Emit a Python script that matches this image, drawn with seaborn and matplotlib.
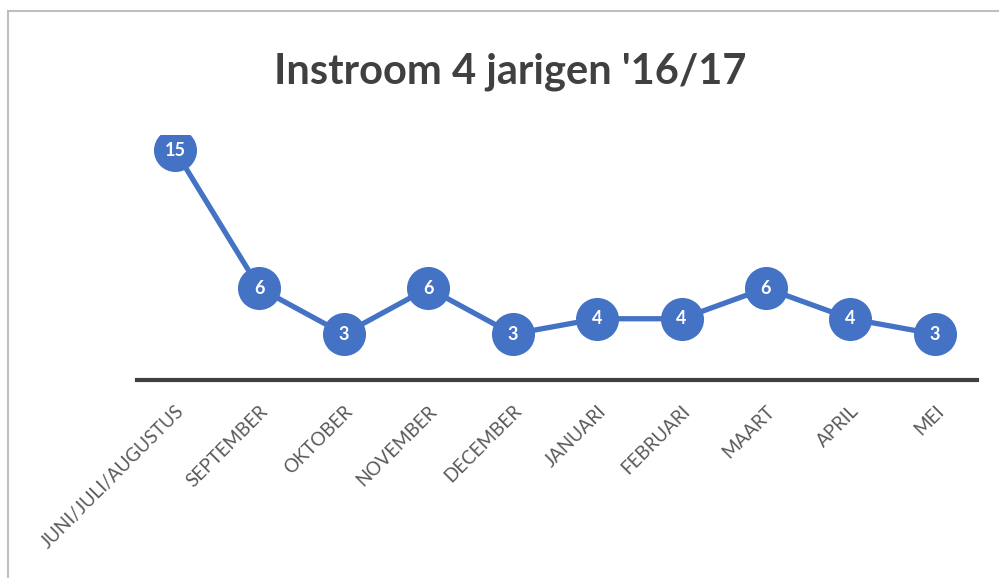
import matplotlib
matplotlib.use('Agg')
import matplotlib.pyplot as plt
import seaborn as sns
import pandas as pd
from matplotlib.patches import Rectangle

# data
maanden = ['JUNI/JULI/AUGUSTUS', 'SEPTEMBER', 'OKTOBER', 'NOVEMBER', 'DECEMBER',
           'JANUARI', 'FEBRUARI', 'MAART', 'APRIL', 'MEI']
instroom = [15, 6, 3, 6, 3, 4, 4, 6, 4, 3]
titel = "Instroom 4 jarigen '16/17"

df = pd.DataFrame({'maand': maanden, 'aantal': instroom})
df['pos'] = range(len(df))

sns.set_style('white')
plt.rcParams['font.family'] = ['Lato', 'DejaVu Sans']

blauw = '#4472C4'

fig = plt.figure(figsize=(9.99, 5.78), dpi=100)
ax = fig.add_axes([137 / 999, 1 - 380 / 578, (977 - 137) / 999, (380 - 135) / 578])

sns.lineplot(data=df, x='pos', y='aantal', ax=ax, color=blauw, linewidth=3.8,
             marker='o', markersize=31, markeredgewidth=0, markerfacecolor=blauw)

# labels in the markers
for x, y in zip(df['pos'], df['aantal']):
    ax.text(x, y, str(y), color='white', fontsize=13, fontweight='bold',
            ha='center', va='center')

ax.set_xlim(-0.45, 9.5)
ax.set_ylim(0, 16)
ax.set_xticks(df['pos'])
ax.set_xticklabels(maanden, rotation=45, ha='right', va='top', rotation_mode='anchor',
                   fontsize=13.5, color='#595959')
ax.tick_params(axis='x', length=0, pad=16)
ax.set_yticks([])
ax.set_xlabel('')
ax.set_ylabel('')
for s in ['top', 'right', 'left']:
    ax.spines[s].set_visible(False)
ax.spines['bottom'].set_color('#404040')
ax.spines['bottom'].set_linewidth(3)

fig.text(510 / 999, 1 - 72 / 578, titel, ha='center', va='center',
         fontsize=30, fontweight='bold', color='#404040')

# chart frame
fig.patches.append(Rectangle((8 / 999, -0.1), 1.2, 1 - 11 / 578 + 0.1,
                             transform=fig.transFigure, fill=False,
                             edgecolor='#BFBFBF', linewidth=1.5))

fig.savefig('out.png', dpi=100)
